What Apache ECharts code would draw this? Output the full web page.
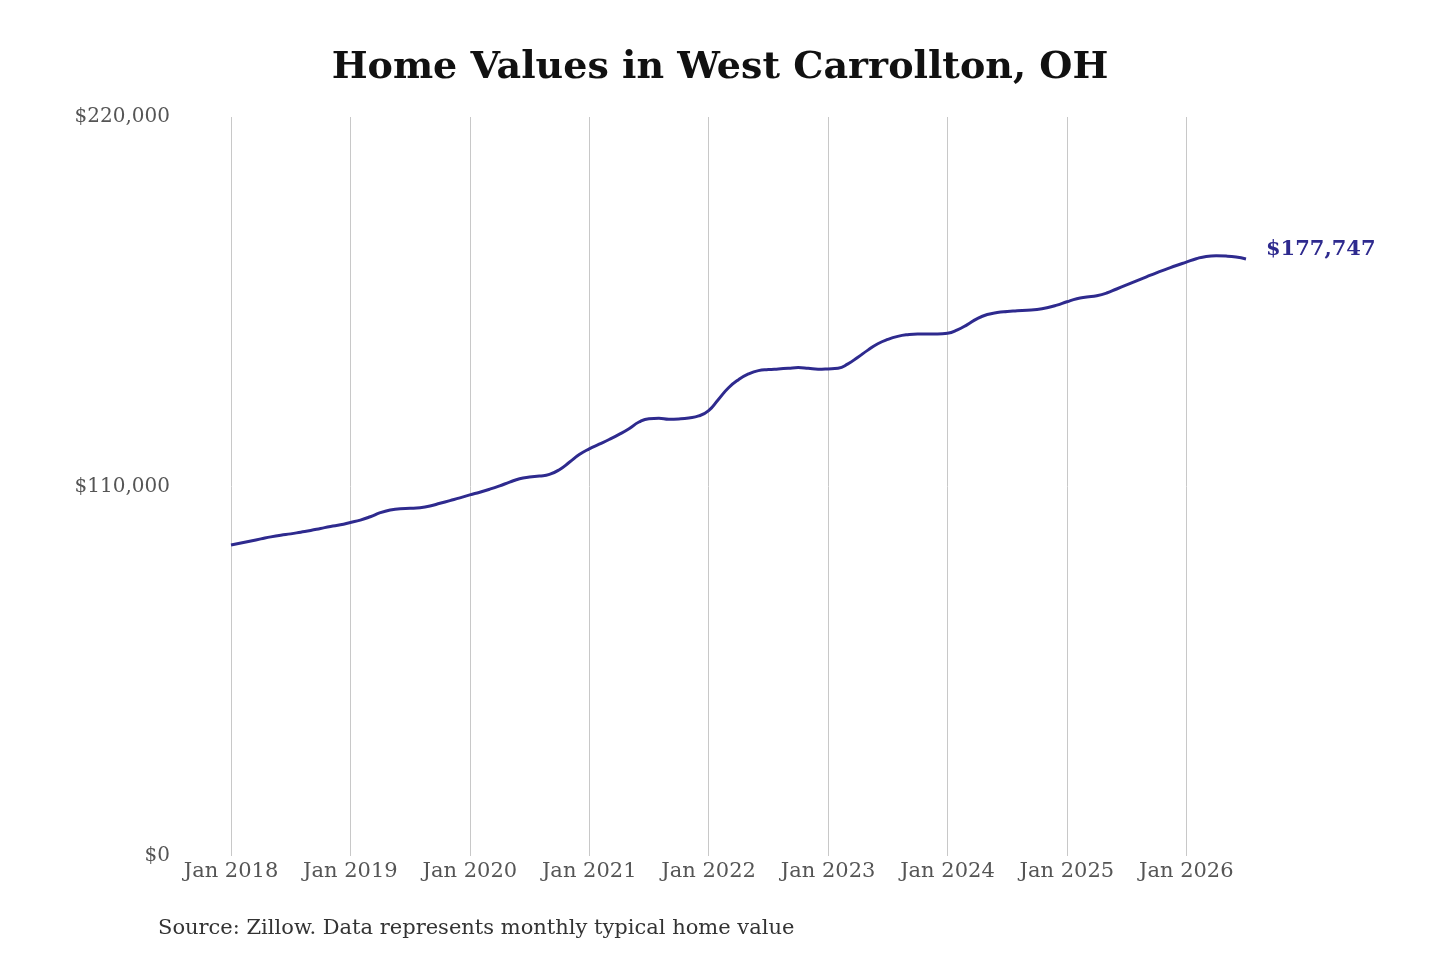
<!DOCTYPE html>
<html>
<head>
<meta charset="utf-8">
<script src="https://cdn.jsdelivr.net/npm/echarts@6/dist/echarts.min.js"></script>
<style>
html,body{margin:0;padding:0;background:#fff;}
#chart{width:1440px;height:960px;}
</style>
</head>
<body>
<div id="chart"></div>
<script>
// monthly typical home value (thousands), Jan 2018 - Jul 2026
var years = [2018, 2019, 2020, 2021, 2022, 2023, 2024, 2025, 2026]
var v2018 = [92.6, 93.2, 93.8, 94.4, 95.0, 95.5, 95.9, 96.4, 96.9, 97.5, 98.1, 98.6]
var v2019 = [99.3, 100.0, 101.0, 102.2, 103.0, 103.4, 103.5, 103.7, 104.2, 105.0, 105.8, 106.6]
var v2020 = [107.5, 108.3, 109.2, 110.2, 111.3, 112.3, 112.8, 113.1, 113.6, 115.0, 117.2, 119.5]
var v2021 = [121.2, 122.6, 124.0, 125.5, 127.2, 129.2, 130.2, 130.3, 130.0, 130.1, 130.4, 131.0]
var v2022 = [132.6, 136.0, 139.4, 141.8, 143.5, 144.5, 144.8, 145.0, 145.2, 145.4, 145.2, 144.9]
var v2023 = [145.0, 145.2, 146.5, 148.5, 150.6, 152.5, 153.8, 154.7, 155.2, 155.4, 155.4, 155.4]
var v2024 = [155.6, 156.6, 158.2, 160.0, 161.2, 161.8, 162.1, 162.3, 162.5, 162.7, 163.2, 164.0]
var v2025 = [165.0, 165.9, 166.4, 166.8, 167.6, 168.8, 170.0, 171.2, 172.4, 173.6, 174.7, 175.8]
var v2026 = [176.8, 177.8, 178.5, 178.7, 178.6, 178.3, 177.747]
var monthNames = ['Jan','Feb','Mar','Apr','May','Jun','Jul','Aug','Sep','Oct','Nov','Dec']

var allValues = [v2018, v2019, v2020, v2021, v2022, v2023, v2024, v2025, v2026]
var categories = []
var values = []
for (var i = 0; i < years.length; i++) {
	for (var m = 0; m < allValues[i].length; m++) {
		categories.push(monthNames[m] + ' ' + years[i])
		values.push(Math.round(allValues[i][m] * 1000))
	}
}
var lineColor = '#2e2a8e'

var chart = echarts.init(document.getElementById('chart'))
var option = {
	animation: false,
	textStyle: { fontFamily: 'DejaVu Serif' },
	title: {
		text: 'Home Values in West Carrollton, OH',
		left: 'center',
		top: 44,
		textStyle: { fontFamily: 'DejaVu Serif', fontWeight: 'bold', fontSize: 38, color: '#111' }
	},
	graphic: [{
		type: 'text', left: 158, top: 918,
		style: { text: 'Source: Zillow. Data represents monthly typical home value', font: '21px "DejaVu Serif"', fill: '#333' }
	}],
	grid: { left: 231, right: 194, top: 117, bottom: 104 },
	xAxis: {
		type: 'category',
		data: categories,
		boundaryGap: false,
		axisLine: { show: false },
		axisTick: { show: false },
		axisLabel: {
			interval: function (idx) { return idx % 12 === 0 },
			color: '#555', fontSize: 21, margin: 5, fontFamily: 'DejaVu Serif'
		},
		splitLine: {
			show: true,
			interval: function (idx) { return idx % 12 === 0 },
			lineStyle: { color: '#c8c8c8', width: 1 }
		}
	},
	yAxis: {
		type: 'value',
		min: 0, max: 220000, interval: 110000,
		axisLine: { show: false },
		axisTick: { show: false },
		splitLine: { show: false },
		axisLabel: {
			color: '#555', fontSize: 20, margin: 61, fontFamily: 'DejaVu Serif',
			formatter: function (v) { return '$' + v.toLocaleString('en-US') }
		}
	},
	series: [{
		type: 'line',
		data: values,
		smooth: true,
		symbol: 'none',
		lineStyle: { color: lineColor, width: 3 },
		endLabel: {
			show: true,
			distance: 20,
			formatter: '$177,747',
			color: lineColor, fontWeight: 'bold', fontSize: 21, fontFamily: 'DejaVu Serif',
			offset: [0, -9]
		}
	}]
}
chart.setOption(option)
</script>
</body>
</html>
